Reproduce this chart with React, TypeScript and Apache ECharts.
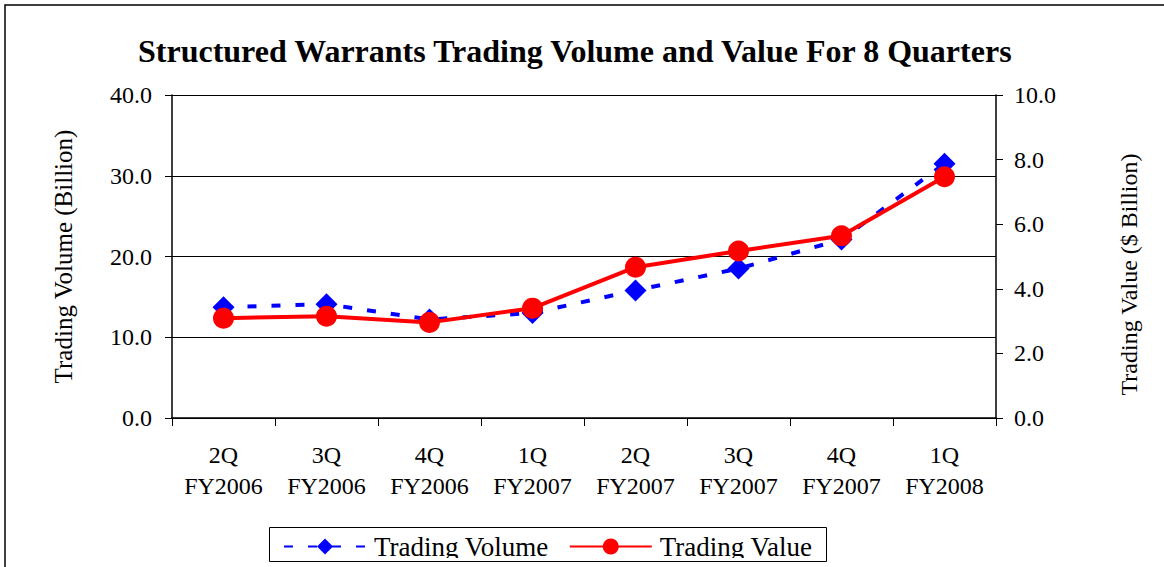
import React, { useEffect, useRef } from "react";
import * as echarts from "echarts";

const categories = [
  "2Q\nFY2006",
  "3Q\nFY2006",
  "4Q\nFY2006",
  "1Q\nFY2007",
  "2Q\nFY2007",
  "3Q\nFY2007",
  "4Q\nFY2007",
  "1Q\nFY2008",
];
const tradingVolume = [13.7, 14.1, 12.2, 13.0, 15.8, 18.5, 22.1, 31.5];
const tradingValue = [3.09, 3.15, 2.96, 3.4, 4.67, 5.17, 5.64, 7.47];

const FONT = "'Liberation Serif', 'Times New Roman', serif";

export default function App() {
  const ref = useRef<HTMLDivElement>(null);
  useEffect(() => {
    if (!ref.current) return;
    const chart = echarts.init(ref.current, null, { renderer: "svg" });
    chart.setOption({
      animation: false,
      backgroundColor: "#fff",
      textStyle: { fontFamily: FONT, color: "#000" },
      title: {
        text: "Structured Warrants Trading Volume and Value For 8 Quarters",
        left: 133,
        top: 30,
        textStyle: { fontFamily: FONT, fontSize: 32, fontWeight: "bold", color: "#000" },
      },
      grid: { left: 172, right: 168, top: 95, bottom: 149, containLabel: false },
      legend: {
        left: 283,
        top: 533,
        padding: 0,
        itemWidth: 82,
        itemHeight: 20,
        itemGap: 20,
        textStyle: { fontFamily: FONT, fontSize: 27, color: "#000", padding: [0, 0, 0, 3] },
        data: ["Trading Volume", "Trading Value"],
      },
      xAxis: {
        type: "category",
        data: categories,
        boundaryGap: true,
        axisLine: { lineStyle: { color: "#000", width: 1.5 } },
        axisTick: { show: true, length: 8, lineStyle: { color: "#000", width: 1 } },
        axisLabel: {
          fontFamily: FONT,
          fontSize: 24,
          color: "#000",
          lineHeight: 31,
          margin: 21,
          interval: 0,
        },
      },
      yAxis: [
        {
          type: "value",
          min: 0,
          max: 40,
          interval: 10,
          name: "Trading Volume (Billion)",
          nameLocation: "middle",
          nameGap: 96,
          nameTextStyle: { fontFamily: FONT, fontSize: 25, color: "#000" },
          axisLine: { show: true, lineStyle: { color: "#000", width: 1.5 } },
          axisTick: { show: true, length: 7, lineStyle: { color: "#000" } },
          axisLabel: {
            fontFamily: FONT,
            fontSize: 24,
            color: "#000",
            margin: 20,
            formatter: (v: number) => v.toFixed(1),
          },
          splitLine: { show: true, lineStyle: { color: "#000", width: 1 } },
        },
        {
          type: "value",
          min: 0,
          max: 10,
          interval: 2,
          position: "right",
          name: "Trading Value ($ Billion)",
          nameLocation: "middle",
          nameGap: 121,
          nameTextStyle: {
            fontFamily: FONT,
            fontSize: 24,
            color: "#000",
            padding: [0, 36, 0, 0],
          },
          axisLine: { show: true, lineStyle: { color: "#000", width: 1.5 } },
          axisTick: { show: true, length: 7, lineStyle: { color: "#000" } },
          axisLabel: {
            fontFamily: FONT,
            fontSize: 24,
            color: "#000",
            margin: 18,
            formatter: (v: number) => v.toFixed(1),
          },
          splitLine: { show: false },
        },
      ],
      series: [
        {
          name: "Trading Volume",
          type: "line",
          yAxisIndex: 0,
          data: tradingVolume,
          symbol: "diamond",
          symbolSize: 22,
          itemStyle: { color: "#0000ff" },
          lineStyle: { color: "#0000ff", width: 4, type: [9, 15] },
          z: 2,
        },
        {
          name: "Trading Value",
          type: "line",
          yAxisIndex: 1,
          data: tradingValue,
          symbol: "circle",
          symbolSize: 21,
          itemStyle: { color: "#ff0000" },
          lineStyle: { color: "#ff0000", width: 4 },
          z: 3,
        },
      ],
      graphic: [
        {
          type: "rect",
          z: 100,
          shape: { x: 264, y: 558, width: 570, height: 14 },
          style: { fill: "#fff" },
          silent: true,
        },
        {
          type: "rect",
          z: 101,
          shape: { x: 269.5, y: 527.5, width: 557, height: 34 },
          style: { fill: "none", stroke: "#000", lineWidth: 1 },
          silent: true,
        },
        {
          type: "rect",
          z: 101,
          shape: { x: 5, y: 5, width: 1300, height: 700 },
          style: { fill: "none", stroke: "#000", lineWidth: 1.5 },
          silent: true,
        },
      ],
    });
    return () => chart.dispose();
  }, []);
  return (
    <div
      ref={ref}
      style={{ position: "fixed", left: 0, top: 0, width: 1164, height: 567 }}
    />
  );
}
